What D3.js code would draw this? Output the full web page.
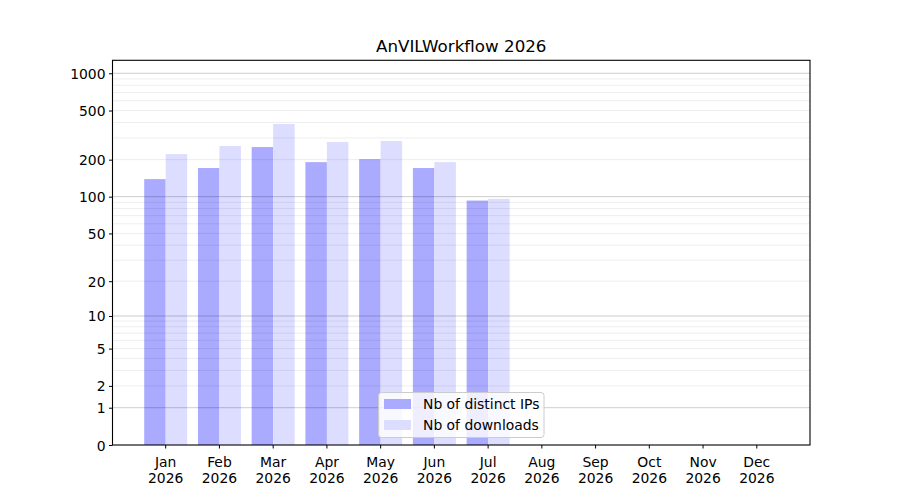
<!DOCTYPE html>
<html>
<head>
<meta charset="utf-8">
<title>AnVILWorkflow 2026</title>
<script src="https://cdn.jsdelivr.net/npm/d3@7"></script>
<style>
  body { margin: 0; background: #fff; }
  svg text { font-family: "DejaVu Sans", sans-serif; fill: #000; }
</style>
</head>
<body>
<div id="chart"></div>
<script>
(function(){
  "use strict";

  // data
  var months = ["Jan", "Feb", "Mar", "Apr", "May", "Jun", "Jul", "Aug", "Sep", "Oct", "Nov", "Dec"];
  var year = "2026";
  var distinctIPs = [139, 171, 253, 191, 202, 171, 93, 0, 0, 0, 0, 0];
  var downloads = [222, 258, 389, 278, 283, 191, 96, 0, 0, 0, 0, 0];
  var seriesNames = ["Nb of distinct IPs", "Nb of downloads"];
  var yTicks = [0, 1, 2, 5, 10, 20, 50, 100, 200, 500, 1000];
  var majorGrid = [1, 10, 100, 1000];
  var minorGrid = [2, 3, 4, 5, 6, 7, 8, 9, 20, 30, 40, 50, 60, 70, 80, 90,
                   200, 300, 400, 500, 600, 700, 800, 900];

  var W = 900, H = 500;
  var margin = { top: 60.3, right: 90, bottom: 55, left: 112.5 };
  var width = W - margin.left - margin.right;
  var height = H - margin.top - margin.bottom;

  var svg = d3.select("#chart").append("svg")
      .attr("width", W)
      .attr("height", H);

  var g = svg.append("g")
      .attr("transform", "translate(" + margin.left + "," + margin.top + ")");

  // scales
  var x = d3.scaleBand()
      .domain(months)
      .range([0, width])
      .paddingInner(0.2)
      .paddingOuter(0.59);

  var xSub = d3.scaleBand()
      .domain([0, 1])
      .range([0, x.bandwidth()]);

  var y = d3.scaleSymlog()
      .constant(1)
      .domain([0, 1273])
      .range([height, 0]);

  // bars
  var colors = ["#aaaaff", "#ddddff"];
  [distinctIPs, downloads].forEach(function(vals, s){
    g.append("g").selectAll("rect")
      .data(vals)
      .enter().append("rect")
        .attr("x", function(d, i){ return x(months[i]) + xSub(s); })
        .attr("width", xSub.bandwidth())
        .attr("y", function(d){ return y(d); })
        .attr("height", function(d){ return height - y(d); })
        .style("fill", colors[s]);
  });

  // grid lines (on top of bars, like the reference)
  g.append("g").selectAll("line")
    .data(minorGrid)
    .enter().append("line")
      .attr("x1", 0).attr("x2", width)
      .attr("y1", function(d){ return y(d); })
      .attr("y2", function(d){ return y(d); })
      .style("stroke", "#000")
      .style("stroke-opacity", 0.07)
      .style("stroke-width", 1);

  g.append("g").selectAll("line")
    .data(majorGrid)
    .enter().append("line")
      .attr("x1", 0).attr("x2", width)
      .attr("y1", function(d){ return y(d); })
      .attr("y2", function(d){ return y(d); })
      .style("stroke", "#000")
      .style("stroke-opacity", 0.2)
      .style("stroke-width", 1);

  // y axis
  var yAxis = d3.axisLeft(y)
      .tickValues(yTicks)
      .tickFormat(d3.format("d"))
      .tickSize(3.5)
      .tickPadding(3.5);
  var yG = g.append("g").call(yAxis);
  yG.select(".domain").remove();
  yG.selectAll("line").style("stroke", "#000").style("stroke-width", 1);
  yG.selectAll("text").style("font-size", "13.9px").attr("dy", "0.36em");

  // x axis
  var xAxis = d3.axisBottom(x)
      .tickSize(3.5)
      .tickPadding(3.5)
      .tickFormat("");
  var xG = g.append("g")
      .attr("transform", "translate(0," + height + ")")
      .call(xAxis);
  xG.select(".domain").remove();
  xG.selectAll("line").style("stroke", "#000").style("stroke-width", 1);
  xG.selectAll(".tick").append("text")
      .attr("text-anchor", "middle")
      .style("font-size", "13.9px")
      .each(function(d){
        var t = d3.select(this);
        t.append("tspan").attr("x", 0).attr("y", 22).text(d);
        t.append("tspan").attr("x", 0).attr("y", 37.5).text(year);
      });

  // frame
  g.append("rect")
      .attr("width", width)
      .attr("height", height)
      .style("fill", "none")
      .style("stroke", "#000")
      .style("stroke-width", 1.1);

  // title
  svg.append("text")
      .attr("x", margin.left + width / 2)
      .attr("y", 51.5)
      .attr("text-anchor", "middle")
      .style("font-size", "16.7px")
      .text("AnVILWorkflow " + year);

  // legend
  var leg = svg.append("g").attr("transform", "translate(378.5,392.5)");
  leg.append("rect")
      .attr("width", 165.5)
      .attr("height", 45)
      .attr("rx", 3)
      .style("fill", "#fff")
      .style("fill-opacity", 0.8)
      .style("stroke", "#ccc")
      .style("stroke-width", 1);
  seriesNames.forEach(function(name, i){
    leg.append("rect")
        .attr("x", 5.5)
        .attr("y", 6.5 + i * 21)
        .attr("width", 27)
        .attr("height", 10)
        .style("fill", colors[i]);
    leg.append("text")
        .attr("x", 44.5)
        .attr("y", 16.5 + i * 21)
        .style("font-size", "13.9px")
        .text(name);
  });
})();
</script>
</body>
</html>
